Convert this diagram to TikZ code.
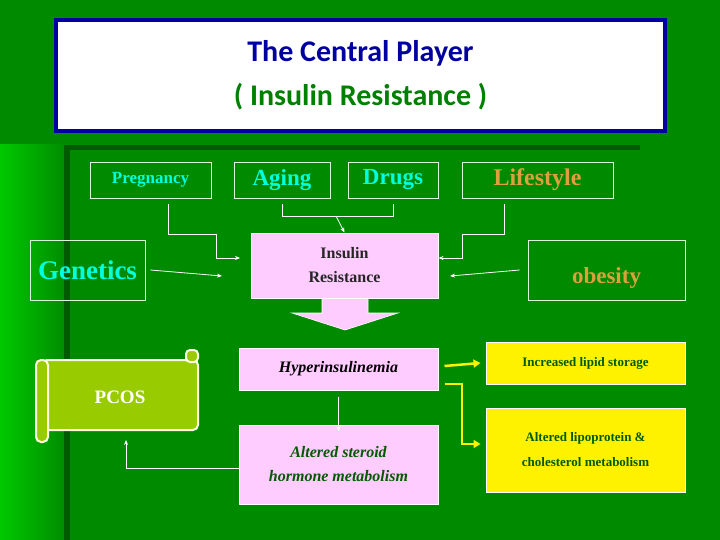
\documentclass[tikz,border=0pt]{standalone}
\usepackage{fontspec}
\setmainfont{Liberation Serif}
\newfontfamily\titlefont{Carlito}
\usetikzlibrary{arrows.meta}
\definecolor{bg}{RGB}{0,138,0}
\definecolor{bgl}{RGB}{0,200,0}
\definecolor{dk}{RGB}{0,90,0}
\definecolor{pk}{RGB}{255,204,255}
\definecolor{cy}{RGB}{0,255,220}
\definecolor{org}{RGB}{220,160,60}
\definecolor{olv}{RGB}{153,204,0}
\definecolor{ttb}{RGB}{0,0,160}
\definecolor{ttg}{RGB}{0,128,0}
\definecolor{txg}{RGB}{0,90,0}
\begin{document}
\begin{tikzpicture}[x=1pt,y=-1pt,
  ob/.style={draw=white!85!green,line width=0.8pt,inner sep=0pt},
  pb/.style={fill=pk,draw=white,line width=1pt,inner sep=0pt,align=center},
  yb/.style={fill=yellow,draw=white,line width=1pt,inner sep=0pt,align=center,text=txg,font=\bfseries\fontsize{13}{15}\selectfont},
  wl/.style={draw=white,line width=0.8pt},
  wa/.style={wl,-{Stealth[length=5pt,width=4pt]}},
  ya/.style={draw=yellow,line width=2.5pt,-{Triangle[length=7pt,width=8pt]}}]
\useasboundingbox (0,0) rectangle (720,540);
\fill[bg] (0,0) rectangle (720,540);
\shade[left color=bgl,right color=bg] (0,145) rectangle (68,540);
\fill[dk] (68,145) rectangle (640,150);
\fill[dk] (64,145) rectangle (70,540);
% title
\node[draw=ttb,line width=4pt,fill=white,minimum width=609pt,minimum height=111pt,align=center,inner sep=0pt,font=\titlefont\bfseries\fontsize{30}{44}\selectfont] (title) at (360.5,75.5)
 {\textcolor{ttb}{The Central Player}\\\textcolor{ttg}{( Insulin Resistance )}};
% top boxes
\node[ob,minimum width=121pt,minimum height=36pt,text=cy,font=\bfseries\fontsize{17}{19}\selectfont] (preg) at (150.5,180) {Pregnancy};
\node[ob,minimum width=96pt,minimum height=36pt,text=cy,font=\bfseries\fontsize{23}{25}\selectfont] (aging) at (282,180) {Aging};
\node[ob,minimum width=90pt,minimum height=36pt,text=cy,font=\bfseries\fontsize{23}{25}\selectfont] (drugs) at (393,180) {Drugs};
\node[ob,minimum width=151pt,minimum height=36pt,text=org,font=\bfseries\fontsize{24}{26}\selectfont] (life) at (537.5,180) {Lifestyle};
\node[ob,minimum width=115pt,minimum height=60pt,text=cy,font=\bfseries\fontsize{27}{29}\selectfont] (gen) at (87.5,270) {Genetics};
\node[ob,minimum width=157pt,minimum height=60pt,text=org,font=\bfseries\fontsize{23}{25}\selectfont,text depth=0pt] (obes) at (606.5,270) {\raisebox{-12pt}{obesity}};
% pink
\node[pb,minimum width=187pt,minimum height=65pt,font=\bfseries\fontsize{16}{24}\selectfont,text=black!85] (ir) at (344.5,265.5) {Insulin\\Resistance};
\fill[pk,draw=white,line width=0.6pt] (322,299) -- (322,313) -- (292,313) -- (345,330) -- (398,313) -- (368,313) -- (368,299);
\node[pb,minimum width=199pt,minimum height=42pt,font=\bfseries\itshape\fontsize{16}{18}\selectfont] (hyper) at (338.5,369) {Hyperinsulinemia};
\node[pb,minimum width=199pt,minimum height=79pt,font=\bfseries\itshape\fontsize{16}{24}\selectfont,text=txg] (ster) at (338.5,464.5) {Altered steroid\\hormone metabolism};
% PCOS scroll
\fill[olv,draw=white!90!yellow,line width=2pt,rounded corners=5pt] (42,360) rectangle (198,430);
\fill[olv,draw=white!90!yellow,line width=2pt,rounded corners=5pt] (36,360) rectangle (48,442);
\fill[olv,draw=white!90!yellow,line width=2pt,rounded corners=4pt] (186,350) rectangle (198,362);
\node[text=white,font=\bfseries\fontsize{19}{21}\selectfont] (pcos) at (120,397) {PCOS};
% yellow
\node[yb,minimum width=199pt,minimum height=42pt] (lipid) at (585.5,363) {Increased lipid storage};
\node[yb,minimum width=199pt,minimum height=84pt,font=\bfseries\fontsize{13}{25}\selectfont] (lipo) at (585.5,450) {Altered lipoprotein \&\\cholesterol metabolism};
% connectors
\coordinate (pa) at (168,204); \coordinate (pe) at (240,258);
\draw[wa] (pa) |- (216,234) |- (pe);
\coordinate (ge) at (222,276);
\draw[wa] ([xshift=5pt]gen.east) -- (ge);
\draw[wl] ([yshift=-6pt]aging.south) -- ++(0,12) -| ([yshift=-6pt]drugs.south);
\draw[wa] (336,216) -- (ir.north);
\coordinate (la) at (504,204);
\draw[wa] (la) |- (462,234) |- (ir.east |- 0,258);
\coordinate (oe) at (450,276);
\draw[wa] ([xshift=-8pt]obes.west) -- (oe);
\draw[wa] ([yshift=-6pt]hyper.south) -- ([yshift=-7pt]ster.north);
\draw[wa] (ster.west |- 0,468) -| (126,440);
\draw[ya] ([xshift=6pt]hyper.east |- 0,366) -- ([xshift=-5pt]lipid.west);
\draw[ya] ([xshift=6pt]hyper.east |- 0,384) -| (462,444) -- ([xshift=-5pt]lipo.west |- 0,444);
\end{tikzpicture}
\end{document}
